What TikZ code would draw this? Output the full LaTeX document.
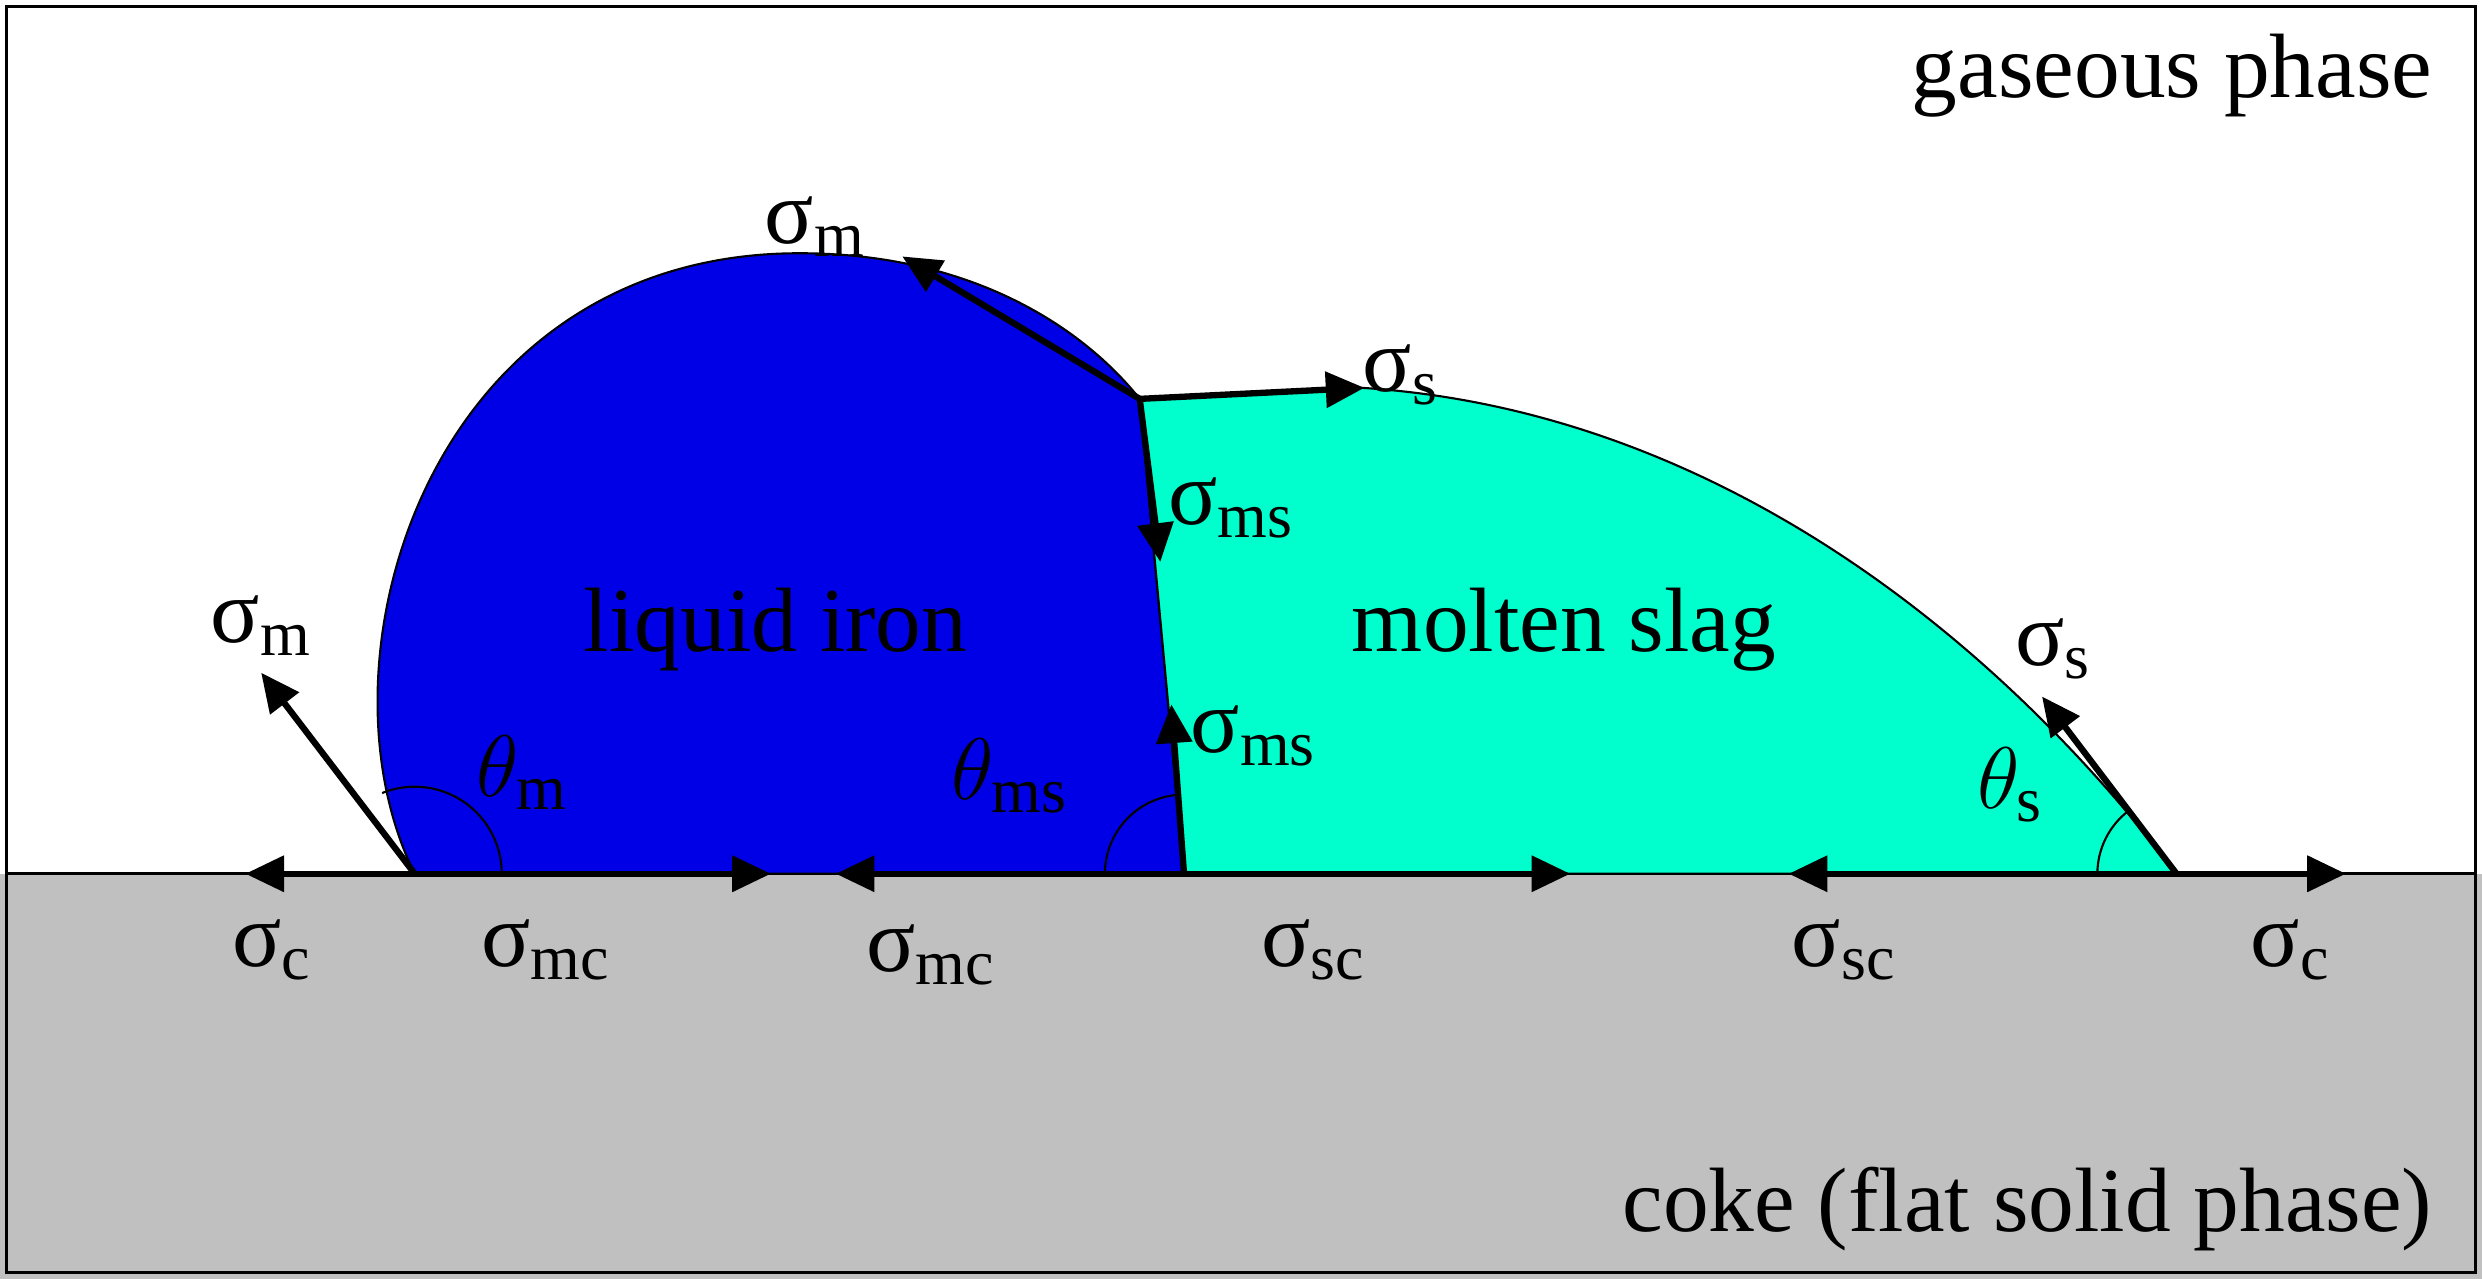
\documentclass[tikz,border=0pt]{standalone}
\usepackage{fontspec}
\setmainfont{Liberation Serif}
\usetikzlibrary{arrows.meta}
\definecolor{ironblue}{RGB}{0,0,230}
\definecolor{slaggreen}{RGB}{0,255,204}
\definecolor{cokegrey}{RGB}{192,192,192}
\begin{document}
\begin{tikzpicture}[x=0.01583cm,y=0.01583cm,font=\fontsize{26}{30}\selectfont,
  force/.style={line width=1.8pt,-{Triangle[length=11pt,width=10pt]}},
  lbl/.style={inner sep=0pt},
  angarc/.style={line width=0.6pt}]

  % phases
  \fill[cokegrey] (0,0) rectangle (1568,256);
  \useasboundingbox (0,0) rectangle (1568,808);
  \draw[line width=0.8pt] (4,4) rectangle (1564,804);
  \draw[line width=0.8pt] (4,256) -- (1564,256);

  % contact points
  \coordinate (iron) at (262,256);
  \coordinate (top) at (720,556);
  \coordinate (mid) at (748,256);
  \coordinate (slag) at (1375,256);

  % drops
  \filldraw[fill=ironblue,draw=black,line width=0.6pt] (iron) .. controls (195,390) and (270,648) .. (505,648) .. controls (615,648) and (685,600) .. (top) -- (mid) -- cycle;
  \filldraw[fill=slaggreen,draw=black,line width=0.6pt] (top) -- (860,563) .. controls (1070,550) and (1250,420) .. (slag) -- (mid) -- cycle;

  % tip coordinates
  \coordinate (m1) at (570,646);
  \coordinate (s1) at (862,563);
  \coordinate (ms1) at (733,453);
  \coordinate (ms2) at (740,363);
  \coordinate (m2) at (165,383);
  \coordinate (s2) at (1290,368);
  \coordinate (c1) at (155,256);
  \coordinate (mc1) at (487,256);
  \coordinate (mc2) at (528,256);
  \coordinate (sc1) at (992,256);
  \coordinate (sc2) at (1130,256);
  \coordinate (c2) at (1482,256);

  % forces
  \draw[force] (top) -- (m1);
  \draw[force] (top) -- (s1);
  \draw[force] (top) -- (ms1);
  \draw[force] (mid) -- (ms2);
  \draw[force] (iron) -- (m2);
  \draw[force] (slag) -- (s2);
  \draw[force] (iron) -- (c1);
  \draw[force] (iron) -- (mc1);
  \draw[force] (mid) -- (mc2);
  \draw[force] (mid) -- (sc1);
  \draw[force] (slag) -- (sc2);
  \draw[force] (slag) -- (c2);

  % contact angles
  \draw[angarc] ([shift={(0:55)}]iron) arc (0:112:55);
  \draw[angarc] ([shift={(93:50)}]mid) arc (93:180:50);
  \draw[angarc] ([shift={(127:50)}]slag) arc (127:180:50);

  % labels
  \node[lbl] (lm1) at (515,665) {σ\textsubscript{m}};
  \node[lbl] (ls1) at (885,571) {σ\textsubscript{s}};
  \node[lbl] (lms1) at (778,487) {σ\textsubscript{ms}};
  \node[lbl] (lms2) at (792,343) {σ\textsubscript{ms}};
  \node[lbl] (lm2) at (165,413) {σ\textsubscript{m}};
  \node[lbl] (ls2) at (1297,398) {σ\textsubscript{s}};
  \node[lbl] (lc1) at (172,208) {σ\textsubscript{c}};
  \node[lbl] (lmc1) at (345,208) {σ\textsubscript{mc}};
  \node[lbl] (lmc2) at (588,205) {σ\textsubscript{mc}};
  \node[lbl] (lsc1) at (830,208) {σ\textsubscript{sc}};
  \node[lbl] (lsc2) at (1165,208) {σ\textsubscript{sc}};
  \node[lbl] (lc2) at (1447,208) {σ\textsubscript{c}};
  \node[lbl] (thm) at (330,320) {$\theta_{\mathrm{m}}$};
  \node[lbl] (thms) at (638,318) {$\theta_{\mathrm{ms}}$};
  \node[lbl] (ths) at (1270,312) {$\theta_{\mathrm{s}}$};

  \node[lbl] (ironlbl) at (490,410) {liquid iron};
  \node[lbl] (slaglbl) at (988,410) {molten slag};
  \node[lbl,anchor=east] (gas) at (1537,760) {gaseous phase};
  \node[lbl,anchor=east] (coke) at (1537,44) {coke (flat solid phase)};
\end{tikzpicture}
\end{document}
